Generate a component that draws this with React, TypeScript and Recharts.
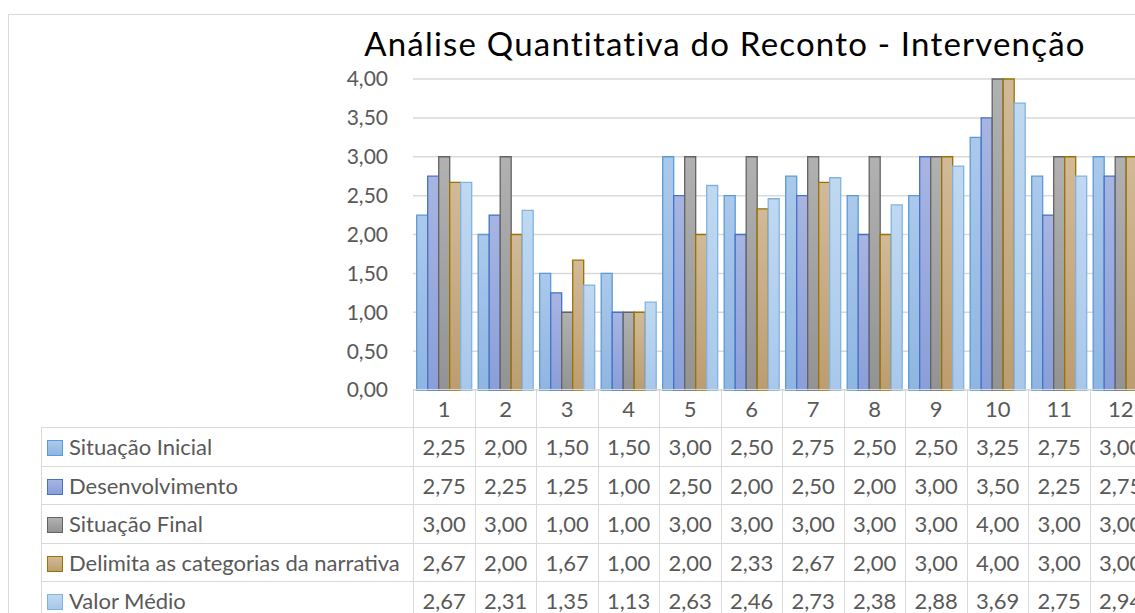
import { BarChart, Bar, XAxis, YAxis, CartesianGrid } from "recharts"

const categories = ["1", "2", "3", "4", "5", "6", "7", "8", "9", "10", "11", "12"]

const situacaoInicial = [2.25, 2.0, 1.5, 1.5, 3.0, 2.5, 2.75, 2.5, 2.5, 3.25, 2.75, 3.0]
const desenvolvimento = [2.75, 2.25, 1.25, 1.0, 2.5, 2.0, 2.5, 2.0, 3.0, 3.5, 2.25, 2.75]
const situacaoFinal = [3.0, 3.0, 1.0, 1.0, 3.0, 3.0, 3.0, 3.0, 3.0, 4.0, 3.0, 3.0]
const delimita = [2.67, 2.0, 1.67, 1.0, 2.0, 2.33, 2.67, 2.0, 3.0, 4.0, 3.0, 3.0]
const valorMedio = [2.67, 2.31, 1.35, 1.13, 2.63, 2.46, 2.73, 2.38, 2.88, 3.69, 2.75, 2.94]

const yTicks = [0, 0.5, 1, 1.5, 2, 2.5, 3, 3.5, 4]

const series = [
  { key: "si", name: "Situação Inicial", values: situacaoInicial, top: "#abc9eb", bottom: "#8fb5e2", stroke: "#5b9bd5" },
  { key: "de", name: "Desenvolvimento", values: desenvolvimento, top: "#a8b5e2", bottom: "#8a9ed9", stroke: "#4472c4" },
  { key: "sf", name: "Situação Final", values: situacaoFinal, top: "#b1b1b1", bottom: "#939393", stroke: "#636363" },
  { key: "dc", name: "Delimita as categorias da narrativa", values: delimita, top: "#d2ba98", bottom: "#bc9d70", stroke: "#997300" },
  { key: "vm", name: "Valor Médio", values: valorMedio, top: "#c0d9f1", bottom: "#a8c8eb", stroke: "#82b3e0" },
]

const data = categories.map((c, i) => {
  const row: Record<string, string | number> = { cat: c }
  series.forEach(s => { row[s.key] = s.values[i] })
  return row
})

const fmt = (v: number) => v.toFixed(2).replace(".", ",")

const FONT = "Lato, 'Open Sans', sans-serif"
const GRID = "#d9d9d9"
const TEXT = "#595959"

export default function App() {
  const cell = { border: `1.5px solid ${GRID}`, padding: 0, textAlign: "center" as const }
  return (
    <div style={{ position: "fixed", top: 0, left: 0, width: 1135, height: 613, overflow: "hidden", background: "#fff", fontFamily: FONT }}>
      <div style={{ position: "absolute", left: 8, top: 14, width: 1300, height: 800, border: `1px solid ${GRID}` }} />
      <div style={{ position: "absolute", left: 325, top: 24, width: 800, textAlign: "center", fontSize: 33, letterSpacing: 1.2, lineHeight: "38px", color: "#000" }}>
        Análise Quantitativa do Reconto - Intervenção
      </div>
      <div style={{ position: "absolute", left: 0, top: 0 }}>
        <BarChart
          width={1160}
          height={405}
          data={data}
          margin={{ top: 79, right: 9, bottom: 15, left: 353 }}
          barCategoryGap="6%"
          barGap={0}
        >
          <defs>
            {series.map(s => (
              <linearGradient key={s.key} id={`g-${s.key}`} x1="0" y1="0" x2="0" y2="1">
                <stop offset="0%" stopColor={s.top} />
                <stop offset="100%" stopColor={s.bottom} />
              </linearGradient>
            ))}
          </defs>
          <CartesianGrid vertical={false} stroke={GRID} strokeWidth={1.5} />
          <XAxis dataKey="cat" hide />
          <YAxis
            width={60}
            domain={[0, 4]}
            ticks={yTicks}
            interval={0}
            tickFormatter={fmt}
            axisLine={false}
            tickLine={false}
            tickSize={0}
            tickMargin={25}
            tick={{ fontSize: 21, fill: TEXT, fontFamily: FONT }}
          />
          {series.map(s => (
            <Bar
              key={s.key}
              dataKey={s.key}
              name={s.name}
              fill={`url(#g-${s.key})`}
              stroke={s.stroke}
              strokeWidth={1.3}
              isAnimationActive={false}
            />
          ))}
        </BarChart>
      </div>
      <table
        style={{
          position: "absolute",
          left: 41,
          top: 389,
          borderCollapse: "collapse",
          tableLayout: "fixed",
          width: 372 + 61.5 * 12,
          fontSize: 22,
          color: TEXT,
          fontFamily: FONT,
        }}
      >
        <colgroup>
          <col style={{ width: 372 }} />
          {categories.map(c => <col key={c} style={{ width: 61.5 }} />)}
        </colgroup>
        <tbody>
          <tr style={{ height: 38 }}>
            <td style={{ padding: 0, border: "none" }} />
            {categories.map(c => <td key={c} style={cell}>{c}</td>)}
          </tr>
          {series.map(s => (
            <tr key={s.key} style={{ height: 38.5 }}>
              <td style={{ ...cell, textAlign: "left", whiteSpace: "nowrap", paddingLeft: 5 }}>
                <span
                  style={{
                    display: "inline-block",
                    width: 14,
                    height: 14,
                    marginRight: 6,
                    verticalAlign: "-1px",
                    background: `linear-gradient(${s.top}, ${s.bottom})`,
                    border: `1.5px solid ${s.stroke}`,
                  }}
                />
                {s.name}
              </td>
              {s.values.map((v, i) => <td key={i} style={cell}>{fmt(v)}</td>)}
            </tr>
          ))}
        </tbody>
      </table>
    </div>
  )
}
